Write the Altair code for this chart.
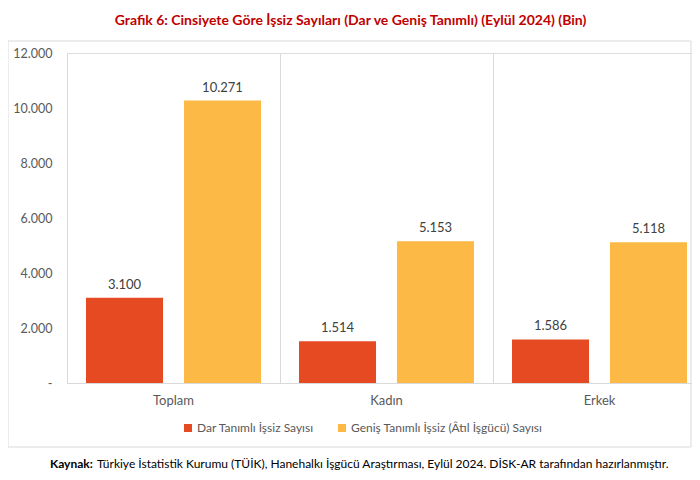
import altair as alt
import pandas as pd

categories = ["Toplam", "Kadın", "Erkek"]
series = ["Dar Tanımlı İşsiz Sayısı", "Geniş Tanımlı İşsiz (Âtıl İşgücü) Sayısı"]
dar_values = [3100, 1514, 1586]
genis_values = [10271, 5153, 5118]
y_ticks = [0, 2000, 4000, 6000, 8000, 10000, 12000]
colors = ["#E64A22", "#FDB945"]

title_text = "Grafik 6: Cinsiyete Göre İşsiz Sayıları (Dar ve Geniş Tanımlı) (Eylül 2024) (Bin)"
source_bold = "Kaynak:"
source_text = "Türkiye İstatistik Kurumu (TÜİK), Hanehalkı İşgücü Araştırması, Eylül 2024. DİSK-AR tarafından hazırlanmıştır."

rows = []
for i, c in enumerate(categories):
    rows.append({"cat": c, "series": series[0], "value": dar_values[i]})
    rows.append({"cat": c, "series": series[1], "value": genis_values[i]})
df = pd.DataFrame(rows)

FONT = "Lato"
W, H = 625, 330

x_enc = alt.X("cat:N", sort=categories, title=None,
              scale=alt.Scale(range=[0, 639], paddingInner=0, paddingOuter=0),
              axis=alt.Axis(labelAngle=0, labelFont=FONT, labelFontSize=13, labelColor="#595959",
                            labelPadding=11, ticks=False, domainColor="#d9d9d9",
                            grid=True, gridColor="#d9d9d9", bandPosition=0, zindex=1))
xo_enc = alt.XOffset("series:N", sort=series,
                     scale=alt.Scale(paddingInner=0.214, paddingOuter=0.194))
y_enc = alt.Y("value:Q", title=None,
              scale=alt.Scale(domain=[0, 12000], nice=False),
              axis=alt.Axis(values=y_ticks, grid=False, ticks=False, tickSize=0,
                            labelFont=FONT, labelFontSize=12.5, labelColor="#595959",
                            labelPadding=15, domainColor="#d9d9d9", zindex=1,
                            labelExpr="datum.value == 0 ? '-' : replace(format(datum.value, ','), ',', '.')"))

base = alt.Chart(df)

bars = base.mark_bar().encode(
    x=x_enc, xOffset=xo_enc, y=y_enc,
    color=alt.Color("series:N", sort=series, scale=alt.Scale(domain=series, range=colors),
                    legend=alt.Legend(title=None, orient="none", direction="horizontal",
                                      legendX=115, legendY=369, symbolType="square",
                                      symbolSize=64, symbolStrokeWidth=0, labelFont=FONT,
                                      labelFontSize=12, labelColor="#595959", columnPadding=22,
                                      labelOffset=3, labelLimit=400))
)

labels = base.transform_calculate(
    lbl="replace(format(datum.value, ','), ',', '.')"
).mark_text(baseline="bottom", dy=-6, font=FONT, fontSize=13, color="#404040").encode(
    x=x_enc, xOffset=xo_enc, y=y_enc, text="lbl:N"
)

deco = pd.DataFrame({"a": [0]})
frame = alt.Chart(deco).mark_rect(fill="transparent", stroke="#d9d9d9", strokeWidth=1).encode(
    x=alt.value(-59), x2=alt.value(624), y=alt.value(-12), y2=alt.value(394)
)
src1 = alt.Chart(pd.DataFrame({"t": [source_bold]})).mark_text(
    align="left", baseline="middle", font=FONT, fontSize=12, fontWeight="bold", color="#000000"
).encode(x=alt.value(-17), y=alt.value(411), text="t:N")
src2 = alt.Chart(pd.DataFrame({"t": [source_text]})).mark_text(
    align="left", baseline="middle", font=FONT, fontSize=12, color="#000000"
).encode(x=alt.value(30), y=alt.value(411), text="t:N")

chart = alt.layer(frame, bars, labels, src1, src2).properties(
    width=W, height=H,
    padding={"left": 59, "top": 45, "right": 0, "bottom": 87},
    autosize=alt.AutoSizeParams(type="none"),
    title=alt.TitleParams(title_text, font=FONT, fontSize=14, fontWeight="bold",
                          color="#C00000", anchor="middle", dx=-29, offset=13),
).configure_view(stroke=None).configure(background="white")

chart.save("out.html", embed_options={"renderer": "svg", "actions": False})
